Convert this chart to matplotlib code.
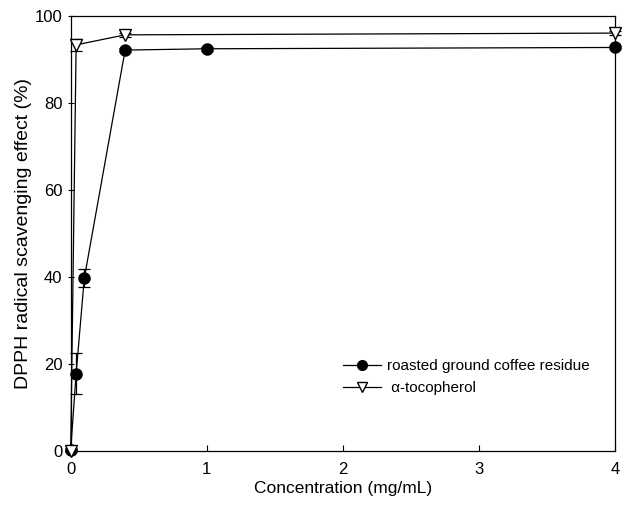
import matplotlib
matplotlib.use("Agg")
import matplotlib.pyplot as plt
from matplotlib.lines import Line2D

plt.rcParams['font.family'] = ['Liberation Sans', 'DejaVu Sans']

coffee_x = [0, 0.04, 0.1, 0.4, 1, 4]
coffee_y = [0.3, 17.8, 39.7, 92.1, 92.4, 92.7]
coffee_err = [0.3, 4.7, 2.0, 0.4, 0.4, 0.4]

toco_x = [0, 0.04, 0.4, 4]
toco_y = [0.0, 93.3, 95.6, 96.0]
toco_err = [0.3, 1.3, 0.5, 0.4]

xticks = [0, 1, 2, 3, 4]
yticks = [0, 20, 40, 60, 80, 100]

labels = ['roasted ground coffee residue', ' α-tocopherol']

fig = plt.figure(figsize=(6.29, 5.11), dpi=100)
ax = fig.add_axes([0.1124, 0.1174, 0.8653, 0.8519])

ax.errorbar(coffee_x, coffee_y, yerr=coffee_err, color='black', lw=0.9,
            marker='o', markersize=8, markerfacecolor='black', markeredgecolor='black',
            capsize=4, elinewidth=0.9, capthick=0.9, clip_on=False, zorder=3)
ax.errorbar(toco_x, toco_y, yerr=toco_err, color='black', lw=0.9,
            marker='v', markersize=8, markerfacecolor='white', markeredgecolor='black',
            capsize=4, elinewidth=0.9, capthick=0.9, clip_on=False, zorder=4)

ax.set_xlim(0, 4)
ax.set_ylim(0, 100)
ax.set_xticks(xticks)
ax.set_yticks(yticks)
ax.tick_params(axis='x', direction='in', length=4, width=0.8, labelsize=12, pad=8)
ax.tick_params(axis='y', direction='inout', length=4, width=0.8, labelsize=12, pad=4)
for s in ax.spines.values():
    s.set_linewidth(0.9)

ax.set_xlabel('Concentration (mg/mL)', fontsize=12.5, labelpad=3)
ax.set_ylabel('DPPH radical scavenging effect (%)', fontsize=14, labelpad=2)

handles = [
    Line2D([], [], color='black', lw=0.9, marker='o', markersize=7,
           markerfacecolor='black', markeredgecolor='black'),
    Line2D([], [], color='black', lw=0.9, marker='v', markersize=7,
           markerfacecolor='white', markeredgecolor='black'),
]
ax.legend(handles, labels, loc='upper left', bbox_to_anchor=(0.475, 0.243),
          frameon=False, fontsize=11, handlelength=2.5,
          handletextpad=0.35, labelspacing=0.55)

fig.savefig('out.png', dpi=100)
